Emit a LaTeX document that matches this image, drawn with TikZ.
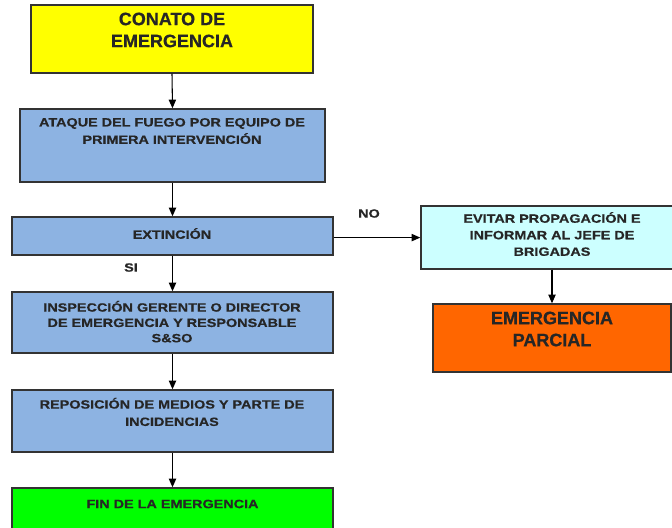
\documentclass[tikz,border=0pt]{standalone}
\usepackage{fontspec}
\setmainfont{Liberation Sans}
\newfontfamily\widefont{Liberation Sans}[FakeStretch=1.2,FakeBold=0.6]
\newfontfamily\bigfont{Liberation Sans}[FakeBold=0.6]
\usetikzlibrary{fit,arrows.meta}
\definecolor{cyel}{HTML}{FFFF00}
\definecolor{cblue}{HTML}{8DB3E2}
\definecolor{ccyan}{HTML}{CCFFFF}
\definecolor{corange}{HTML}{FF6600}
\definecolor{cgreen}{HTML}{00FF00}
\begin{document}
\begin{tikzpicture}[x=0.75pt,y=-0.75pt,
  box/.style={draw=black!80, line width=1.1pt, inner sep=0pt},
  big/.style={font=\bigfont\fontsize{13.5}{16.5}\selectfont\bfseries, align=center, text=black!85, inner sep=0pt},
  small/.style={font=\widefont\fontsize{9}{13}\selectfont\bfseries, align=center, text=black!85, inner sep=0pt},
  arr/.style={-{Triangle[length=6.5pt,width=5.5pt]}, line width=0.8pt}]
\clip (0,0) rectangle (672,528);
% boxes
\node[box, fill=cyel, fit={(31,5) (313,73)}] (con) {};
\node[box, fill=cblue, fit={(20,109) (325,182)}] (ata) {};
\node[box, fill=cblue, fit={(12,217) (333,255)}] (ext) {};
\node[box, fill=cblue, fit={(12,292) (333,353)}] (ins) {};
\node[box, fill=cblue, fit={(12,390) (333,452)}] (rep) {};
\node[box, fill=cgreen, fit={(12,488) (333,548)}] (fin) {};
\node[box, fill=ccyan, fit={(421,206) (684,269)}] (evi) {};
\node[box, fill=corange, fit={(433,304) (671,372)}] (par) {};
% texts
\node[big] (tcon) at (172,30) {CONATO DE\\EMERGENCIA};
\node[small] (tata) at (172,131) {ATAQUE DEL FUEGO POR EQUIPO DE\\PRIMERA INTERVENCIÓN};
\node[small] (text) at (172,233.5) {EXTINCIÓN};
\node[small, font=\widefont\fontsize{9}{11.5}\selectfont\bfseries] (tins) at (172,321.7) {INSPECCIÓN GERENTE O DIRECTOR\\DE EMERGENCIA Y RESPONSABLE\\S\&SO};
\node[small] (trep) at (172,412) {REPOSICIÓN DE MEDIOS Y PARTE DE\\INCIDENCIAS};
\node[small] (tfin) at (172.5,504) {FIN DE LA EMERGENCIA};
\node[small, font=\widefont\fontsize{9}{12.4}\selectfont\bfseries] (tevi) at (552,234) {EVITAR PROPAGACIÓN E\\INFORMAR AL JEFE DE\\BRIGADAS};
\node[big] (tpar) at (552,329) {EMERGENCIA\\PARCIAL};
\node[small] (lno) at (369,213.5) {NO};
\node[small] (lsi) at (131,267.5) {SI};
% arrows
\draw[arr] (con.south) -- (ata.north);
\draw[arr] (ata.south) -- (ext.north);
\draw[arr] (ext.south) -- (ins.north);
\draw[arr] (ins.south) -- (rep.north);
\draw[arr] (rep.south) -- (fin.north);
\draw[arr] ([yshift=-1.2pt]ext.east) -- ([yshift=-1.2pt]ext.east -| evi.west);
\draw[arr] (evi.south -| par.north) -- (par.north);
\end{tikzpicture}
\end{document}
